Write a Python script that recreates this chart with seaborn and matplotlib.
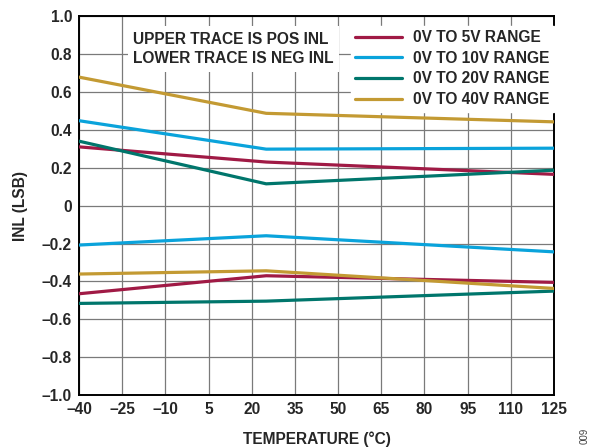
import matplotlib
matplotlib.use("Agg")
import matplotlib.pyplot as plt
import seaborn as sns
import pandas as pd

# Temperature points (°C)
temps = [-40, 25, 125]

# INL (LSB): positive (upper) and negative (lower) traces for each range
pos_5v = [0.31, 0.23, 0.165]
neg_5v = [-0.465, -0.37, -0.405]
pos_10v = [0.448, 0.298, 0.303]
neg_10v = [-0.208, -0.159, -0.244]
pos_20v = [0.34, 0.115, 0.187]
neg_20v = [-0.516, -0.504, -0.451]
pos_40v = [0.678, 0.487, 0.442]
neg_40v = [-0.361, -0.344, -0.437]

ranges = ["0V TO 5V RANGE", "0V TO 10V RANGE", "0V TO 20V RANGE", "0V TO 40V RANGE"]
colors = ["#A01A45", "#0AA3DB", "#00766C", "#C39A33"]

x_ticks = [-40, -25, -10, 5, 20, 35, 50, 65, 80, 95, 110, 125]
y_ticks = [-1.0, -0.8, -0.6, -0.4, -0.2, 0, 0.2, 0.4, 0.6, 0.8, 1.0]

series = {
    ranges[0]: (pos_5v, neg_5v),
    ranges[1]: (pos_10v, neg_10v),
    ranges[2]: (pos_20v, neg_20v),
    ranges[3]: (pos_40v, neg_40v),
}
rows = []
for name, (pos, neg) in series.items():
    for t, v in zip(temps, pos):
        rows.append({"temp": t, "inl": v, "range": name, "trace": "POS"})
    for t, v in zip(temps, neg):
        rows.append({"temp": t, "inl": v, "range": name, "trace": "NEG"})
df = pd.DataFrame(rows)

sns.set_theme(style="white")
plt.rcParams["font.family"] = ["Liberation Sans", "DejaVu Sans"]
plt.rcParams["font.weight"] = "bold"

FS = 11.2

fig = plt.figure(figsize=(5.9, 4.47), dpi=100)
ax = fig.add_axes([0.134, 0.116, 0.805, 0.848])

sns.lineplot(data=df, x="temp", y="inl", hue="range", units="trace",
             estimator=None, hue_order=ranges, palette=colors,
             linewidth=2.3, ax=ax, zorder=3)

ax.set_xlim(-40, 125)
ax.set_ylim(-1.0, 1.0)
ax.set_xticks(x_ticks)
ax.set_yticks(y_ticks)
ax.set_xticklabels([f"{t}".replace("-", "\u2013") for t in x_ticks])
ax.set_yticklabels(["0" if v == 0 else f"{v:.1f}".replace("-", "\u2013") for v in y_ticks])
ax.tick_params(axis="both", length=0, labelsize=FS, pad=5)
for lbl in ax.get_xticklabels() + ax.get_yticklabels():
    lbl.set_fontweight("bold")

ax.grid(True, color="#7a7a7a", linewidth=0.9, zorder=0)
ax.set_axisbelow(True)
for sp in ax.spines.values():
    sp.set_color("black")
    sp.set_linewidth(1.4)

ax.set_xlabel("TEMPERATURE (°C)", fontsize=FS, fontweight="bold", labelpad=10)
ax.set_ylabel("INL (LSB)", fontsize=FS, fontweight="bold", labelpad=10)

leg = ax.legend(loc="upper right", bbox_to_anchor=(1.0, 0.975), frameon=True,
                fancybox=False, framealpha=1, edgecolor="white",
                fontsize=FS, handlelength=3.0, handletextpad=0.7,
                labelspacing=0.36, borderpad=0.3, borderaxespad=0.0)
for txt in leg.get_texts():
    txt.set_fontweight("bold")
for h in leg.get_lines():
    h.set_linewidth(2.3)

ax.text(0.114, 0.958, "UPPER TRACE IS POS INL\nLOWER TRACE IS NEG INL",
        transform=ax.transAxes, ha="left", va="top", fontsize=FS,
        fontweight="bold", linespacing=1.35, zorder=4,
        bbox=dict(facecolor="white", edgecolor="none", pad=4))

# Figure number, rotated along the right edge
fig.text(0.982, 0.006, "009", rotation=90, fontsize=7,
         color="#444444", ha="left", va="bottom", fontweight="normal")

fig.savefig("out.png", dpi=100)
